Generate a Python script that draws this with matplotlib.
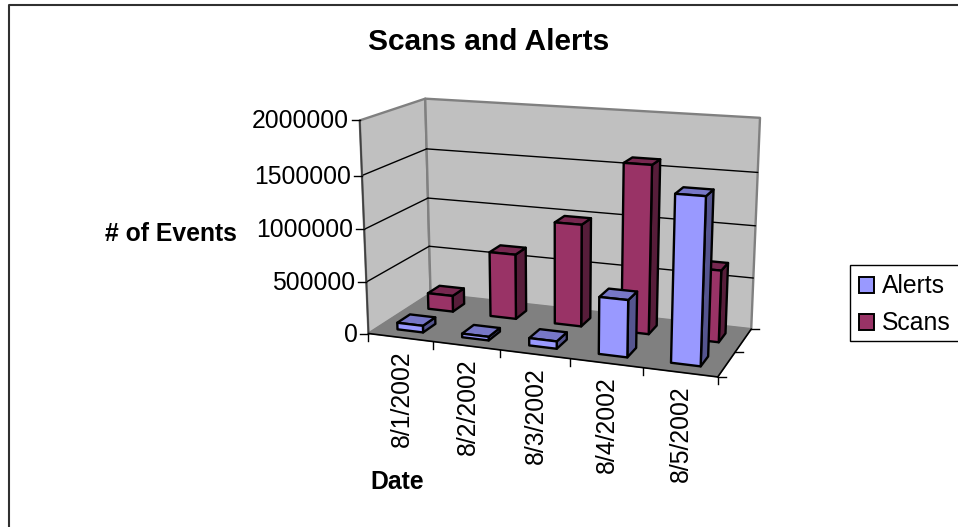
import numpy as np

from matplotlib import pyplot as plt
from matplotlib.patches import Polygon, Rectangle

plt.rcParams["font.family"] = ["Liberation Sans", "DejaVu Sans"]

dates = ["8/1/2002", "8/2/2002", "8/3/2002", "8/4/2002", "8/5/2002"]
alerts = [65000, 35000, 70000, 530000, 1510000]
scans = [160000, 640000, 990000, 1600000, 680000]
y_ticks = [0, 500000, 1000000, 1500000, 2000000]
y_max = 2000000

# screen position of the chart box corners: (x, depth, height) -> pixel
corners = {
    (0, 0, 0): (368, 332),
    (1, 0, 0): (718, 378),
    (0, 1, 0): (431, 295),
    (1, 1, 0): (751, 328),
    (0, 0, 1): (360, 121),
    (0, 1, 1): (425, 98),
    (1, 1, 1): (760, 118),
}

rows = []
for (cx, cd, cz), (u, v) in corners.items():
    rows.append([cx, cd, cz, 1, 0, 0, 0, 0, -u * cx, -u * cd, -u * cz, -u])
    rows.append([0, 0, 0, 0, cx, cd, cz, 1, -v * cx, -v * cd, -v * cz, -v])
P = np.linalg.svd(np.array(rows, dtype=float))[2][-1].reshape(3, 4)


def proj(x, d, value):
    p = P @ np.array([x, d, value / y_max, 1.0])
    return p[0] / p[2], p[1] / p[2]


def face(ax, pts, color, edge="black", lw=1.7, z=2):
    ax.add_patch(
        Polygon([proj(*q) for q in pts], closed=True, facecolor=color,
                edgecolor=edge, linewidth=lw, joinstyle="round", zorder=z)
    )


def bar(ax, i, row, value, colors):
    x0 = (i + 0.3) / len(dates)
    x1 = (i + 0.7) / len(dates)
    d0 = row * 0.5 + 0.15
    d1 = row * 0.5 + 0.35
    face(ax, [(x1, d0, 0), (x1, d1, 0), (x1, d1, value), (x1, d0, value)], colors[1])
    face(ax, [(x0, d0, value), (x1, d0, value), (x1, d1, value), (x0, d1, value)], colors[2])
    face(ax, [(x0, d0, 0), (x1, d0, 0), (x1, d0, value), (x0, d0, value)], colors[0])


def line(ax, a, b, color="black", lw=1.0, z=1):
    pa, pb = proj(*a), proj(*b)
    ax.plot([pa[0], pb[0]], [pa[1], pb[1]], color=color, lw=lw, zorder=z,
            solid_capstyle="round")


fig = plt.figure(figsize=(9.58, 5.27), dpi=100)
ax = fig.add_axes([0, 0, 1, 1])
ax.set_xlim(0, 958)
ax.set_ylim(527, 0)
ax.axis("off")

# outer frame, right and bottom sides are cut off in the reference
ax.plot([9, 9, 958], [527, 5, 5], color="#303030", lw=1.5, zorder=1)

# walls and floor
wall = "#C0C0C0"
face(ax, [(0, 0, 0), (0, 1, 0), (0, 1, y_max), (0, 0, y_max)], wall, edge="#808080", z=1)
face(ax, [(0, 1, 0), (1, 1, 0), (1, 1, y_max), (0, 1, y_max)], wall, edge="#808080", z=1)
face(ax, [(0, 0, 0), (1, 0, 0), (1, 1, 0), (0, 1, 0)], "#808080", edge="#808080", lw=0.8, z=1)

for t in y_ticks[1:-1]:
    line(ax, (0, 0, t), (0, 1, t))
    line(ax, (0, 1, t), (1, 1, t))

# axes lines and ticks
line(ax, (0, 0, 0), (0, 0, y_max), color="#404040", lw=1.2)
line(ax, (0, 0, 0), (1, 0, 0), lw=1.2)
line(ax, (1, 0, 0), (1, 1, 0), lw=1.2)

for t in y_ticks:
    px, py = proj(0, 0, t)
    ax.plot([px - 8, px], [py, py], color="black", lw=1.0, zorder=1)
    ax.text(px - 11, py + 1, str(t), ha="right", va="center", fontsize=17.8)

for i in range(len(dates) + 1):
    px, py = proj(i / len(dates), 0, 0)
    ax.plot([px, px], [py, py + 7], color="black", lw=1.0, zorder=1)

for d in [0, 0.5, 1]:
    px, py = proj(1, d, 0)
    ax.plot([px, px + 8], [py, py], color="black", lw=1.0, zorder=1)

for i, label in enumerate(dates):
    px, py = proj((i + 0.5) / len(dates), 0, 0)
    ax.text(px + 1, py + 13, label, rotation=90, ha="center", va="top", fontsize=17.8)

# bars, back row first
alert_colors = ["#9999FF", "#55558F", "#7777C7"]
scan_colors = ["#993366", "#571D3A", "#772850"]
for i, v in enumerate(scans):
    bar(ax, i, 1, v, scan_colors)
for i, v in enumerate(alerts):
    bar(ax, i, 0, v, alert_colors)

ax.text(489, 42, "Scans and Alerts", ha="center", va="center", fontsize=21.5, fontweight="bold")
ax.text(171, 234, "# of Events", ha="center", va="center", fontsize=17.8, fontweight="bold")
ax.text(397, 482, "Date", ha="center", va="center", fontsize=17.8, fontweight="bold")

# legend
ax.add_patch(Rectangle((850.5, 265), 120, 76, facecolor="white", edgecolor="black", linewidth=1.0))
ax.add_patch(Rectangle((859, 277), 15.5, 15.5, facecolor=alert_colors[0], edgecolor="black", linewidth=1.4))
ax.add_patch(Rectangle((859, 314), 15.5, 15.5, facecolor=scan_colors[0], edgecolor="black", linewidth=1.4))
ax.text(882, 286, "Alerts", ha="left", va="center", fontsize=17.8)
ax.text(882, 323, "Scans", ha="left", va="center", fontsize=17.8)

plt.savefig("out.png", dpi=100)
